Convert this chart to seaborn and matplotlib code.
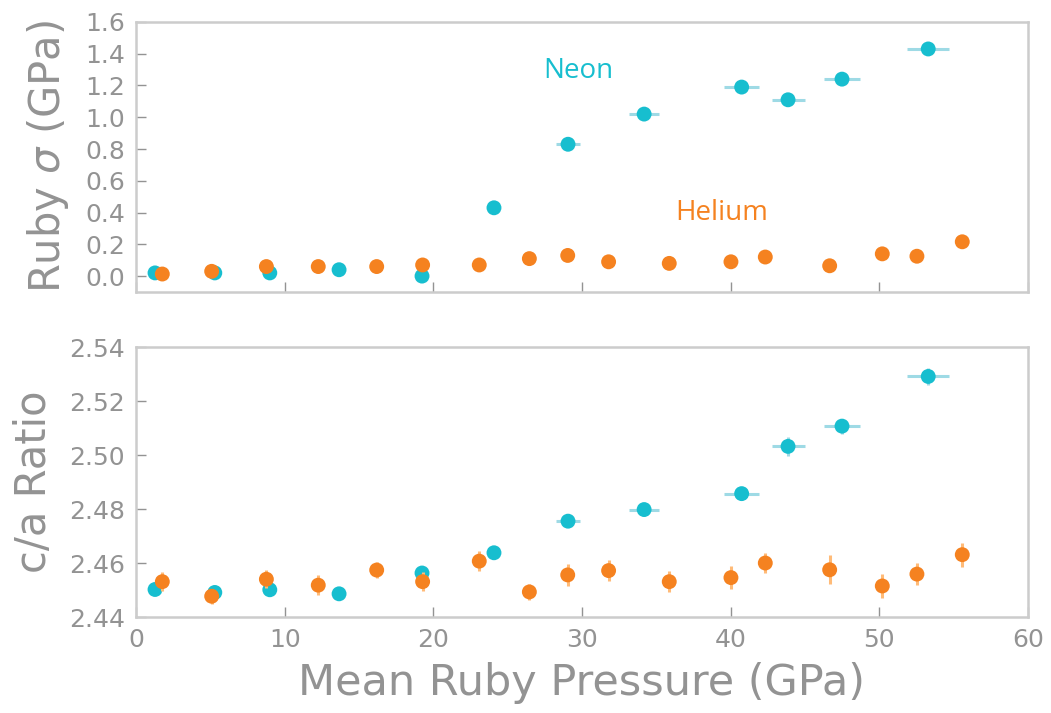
import numpy as np
import pandas as pd
import matplotlib
matplotlib.use('Agg')
import matplotlib.pyplot as plt
import seaborn as sns

# datos
neon_p = [1.28, 5.3, 9.0, 13.66, 19.24, 24.08, 29.06, 34.18, 40.74, 43.86, 47.49, 53.29]
neon_sigma = [0.02, 0.02, 0.02, 0.04, 0.0, 0.43, 0.83, 1.02, 1.19, 1.11, 1.24, 1.43]
neon_ca = [2.4502, 2.4491, 2.4501, 2.4486, 2.4563, 2.4638, 2.4755, 2.4798, 2.4857,
           2.5032, 2.5107, 2.5291]
neon_ca_err = [0.001, 0.001, 0.001, 0.001, 0.001, 0.001, 0.001, 0.0015, 0.002,
               0.0035, 0.0028, 0.003]

helio_p = [1.77, 5.09, 8.77, 12.26, 16.19, 19.28, 23.09, 26.46, 29.04, 31.79, 35.87,
           40.02, 42.33, 46.66, 50.2, 52.53, 55.58]
helio_sigma = [0.013, 0.03, 0.06, 0.06, 0.06, 0.07, 0.07, 0.11, 0.13, 0.09, 0.08,
               0.09, 0.12, 0.065, 0.14, 0.125, 0.216]
helio_ca = [2.4531, 2.4477, 2.4540, 2.4518, 2.4574, 2.4531, 2.4607, 2.4493, 2.4556,
            2.4572, 2.4531, 2.4546, 2.4600, 2.4575, 2.4515, 2.4559, 2.4631]
helio_ca_err = [0.0034, 0.0028, 0.0034, 0.0037, 0.003, 0.0034, 0.0038, 0.003, 0.004,
                0.0038, 0.0039, 0.0042, 0.0036, 0.0054, 0.0046, 0.0042, 0.0044]

neon_df = pd.DataFrame({'p': neon_p, 'sigma': neon_sigma, 'ca': neon_ca, 'ca_err': neon_ca_err})
helio_df = pd.DataFrame({'p': helio_p, 'sigma': helio_sigma, 'ca': helio_ca, 'ca_err': helio_ca_err})

sns.set_theme(style='white')
plt.rcParams['font.family'] = ['DejaVu Sans']

c_neon = '#17becf'
c_neon_err = '#9edae5'
c_helio = '#f58220'
c_helio_err = '#ffbb78'
gris = '#939393'
borde = '#cccccc'

fig = plt.figure(figsize=(10.51, 7.13), dpi=100)
ax1 = fig.add_axes([0.1294, 0.5905, 0.8487, 0.3787])
ax2 = fig.add_axes([0.1294, 0.1346, 0.8487, 0.3787])

# Panel superior: sigma del rubi
ax1.errorbar(neon_df['p'], neon_df['sigma'], xerr=neon_df['sigma'], fmt='none',
             ecolor=c_neon_err, elinewidth=2.2, capsize=0, zorder=2)
sns.scatterplot(data=neon_df, x='p', y='sigma', ax=ax1, color=c_neon, s=115,
                edgecolor='none', linewidth=0, zorder=3)
ax1.errorbar(helio_df['p'], helio_df['sigma'], xerr=helio_df['sigma'], fmt='none',
             ecolor=c_helio_err, elinewidth=2.2, capsize=0, zorder=4)
sns.scatterplot(data=helio_df, x='p', y='sigma', ax=ax1, color=c_helio, s=115,
                edgecolor='none', linewidth=0, zorder=5)
ax1.text(27.4, 1.29, 'Neon', color=c_neon, fontsize=20, family='Open Sans', va='center')
ax1.text(36.3, 0.40, 'Helium', color=c_helio, fontsize=20, family='Open Sans', va='center')

# Panel inferior: razon c/a
ax2.errorbar(neon_df['p'], neon_df['ca'], xerr=neon_df['sigma'], yerr=neon_df['ca_err'],
             fmt='none', ecolor=c_neon_err, elinewidth=2.2, capsize=0, zorder=2)
sns.scatterplot(data=neon_df, x='p', y='ca', ax=ax2, color=c_neon, s=115,
                edgecolor='none', linewidth=0, zorder=3)
ax2.errorbar(helio_df['p'], helio_df['ca'], xerr=helio_df['sigma'], yerr=helio_df['ca_err'],
             fmt='none', ecolor=c_helio_err, elinewidth=2.2, capsize=0, zorder=4)
sns.scatterplot(data=helio_df, x='p', y='ca', ax=ax2, color=c_helio, s=115,
                edgecolor='none', linewidth=0, zorder=5)

ax1.set_xlim(0, 60)
ax2.set_xlim(0, 60)
ax1.set_ylim(-0.1, 1.6)
ax2.set_ylim(2.44, 2.54)
ax1.set_yticks(np.arange(0, 1.61, 0.2))
ax1.set_yticklabels([f'{v:.1f}' for v in np.arange(0, 1.61, 0.2)])
ax2.set_yticks(np.arange(2.44, 2.541, 0.02))
ax2.set_yticklabels([f'{v:.2f}' for v in np.arange(2.44, 2.541, 0.02)])
ax1.set_xticks(range(0, 61, 10))
ax2.set_xticks(range(0, 61, 10))
ax1.set_xticklabels([])

for ax in (ax1, ax2):
    for sp in ax.spines.values():
        sp.set_color(borde)
        sp.set_linewidth(1.8)
        sp.set_visible(True)
    ax.tick_params(direction='in', length=7, width=1, color=gris, labelcolor=gris,
                   labelsize=18, left=True, bottom=True, top=False, right=False, pad=8)
    ax.set_xlabel('')

ax1.set_ylabel(r'Ruby $\sigma$ (GPa)', fontsize=30, color=gris, labelpad=10)
ax2.set_ylabel('c/a Ratio', fontsize=30, color=gris, labelpad=10)
ax2.set_xlabel('Mean Ruby Pressure (GPa)', fontsize=31, color=gris, labelpad=7)

plt.savefig('out.png', dpi=100)
